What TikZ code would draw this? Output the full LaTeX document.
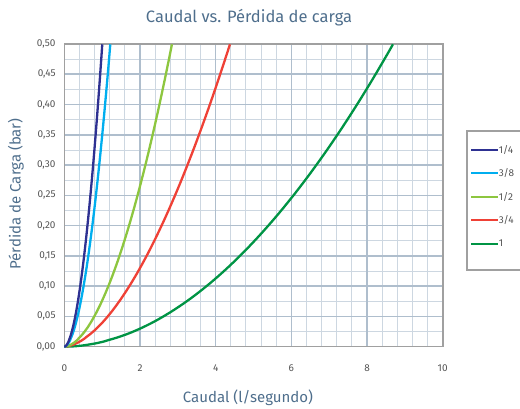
\documentclass[tikz,border=0pt]{standalone}
\usepackage{fontspec}
\setmainfont{Fira Sans}
\definecolor{slate}{RGB}{78,110,140}
\definecolor{ticktext}{RGB}{85,85,85}
\definecolor{minorgray}{RGB}{205,215,225}
\definecolor{majorgray}{RGB}{175,190,205}
\definecolor{framegray}{RGB}{160,160,160}
\definecolor{qblue}{RGB}{46,49,146}
\definecolor{qcyan}{RGB}{0,174,239}
\definecolor{qlime}{RGB}{141,198,63}
\definecolor{qred}{RGB}{239,65,54}
\definecolor{qgreen}{RGB}{0,148,68}
\tikzset{
  minorgrid/.style={draw=minorgray,line width=0.9pt},
  majorgrid/.style={draw=majorgray,line width=1.5pt},
  frame/.style={draw=framegray,line width=1.6pt},
  curve/.style={line width=2.3pt},
  ticklabel/.style={text=ticktext,font=\fontsize{10}{12}\selectfont,inner sep=1pt},
  axislabel/.style={text=slate,font=\fontsize{15}{18}\selectfont},
  legendtext/.style={text=ticktext,font=\fontsize{10}{12}\selectfont,anchor=west,inner sep=1pt}
}
\begin{document}
\begin{tikzpicture}[x=1pt,y=1pt]
\useasboundingbox (0,0) rectangle (520,409);

% Title and axis labels
\node[axislabel,font=\fontsize{16.5}{19}\selectfont] (title) at (249,391) {Caudal vs. Pérdida de carga};
\node[axislabel,rotate=90] (ylabel) at (16,215) {Pérdida de Carga (bar)};
\node[axislabel] (xlabel) at (248,11) {Caudal (l/segundo)};

% Plot area
\begin{scope}[shift={(64.3pt,62.3pt)},x=37.84pt,y=605.4pt]
  % minor grid
  \foreach \i in {1,...,24} \draw[minorgrid] (\i*0.4,0) -- (\i*0.4,0.5);
  \foreach \j in {1,...,19} \draw[minorgrid] (0,\j*0.025) -- (10,\j*0.025);
  % major grid
  \foreach \i in {2,4,6,8} \draw[majorgrid] (\i,0) -- (\i,0.5);
  \foreach \j in {1,...,9} \draw[majorgrid] (0,\j*0.05) -- (10,\j*0.05);
  \draw[frame] (0,0) rectangle (10,0.5);

  % tick labels
  \foreach \v in {0,2,4,6,8,10}
    \node[ticklabel] (xt\v) at (\v,-0.0355) {\v};
  \foreach \v/\t in {0/{0,00},1/{0,05},2/{0,10},3/{0,15},4/{0,20},5/{0,25},6/{0,30},7/{0,35},8/{0,40},9/{0,45},10/{0,50}}
    \node[ticklabel,anchor=east] (yt\v) at (-0.2,\v*0.05) {\t};

  % curves: 0.5 bar reached at x = \xm
  \foreach \xm/\ex/\c in {8.69/1.92/qgreen,4.38/1.72/qred,2.846/1.8/qlime,1.216/1.85/qcyan,1.004/1.85/qblue}
    \draw[curve,\c] (0,0) -- plot[domain=0.02:1,samples=60] ({\xm*\x},{0.5*\x^\ex});
\end{scope}

% Legend
\draw[frame] (466.7,278) rectangle (530,139);
\foreach \n/\c/\t [count=\k] in {a/qblue/{1/4},b/qcyan/{3/8},c/qlime/{1/2},d/qred/{3/4},e/qgreen/1}{
  \coordinate (l\n) at (471,282.4-\k*23.4);
  \coordinate (r\n) at (497.7,282.4-\k*23.4);
  \draw[curve,\c,line width=2pt] (l\n) -- (r\n);
  \node[legendtext] (t\n) at (r\n) {\t};
}
\end{tikzpicture}
\end{document}
